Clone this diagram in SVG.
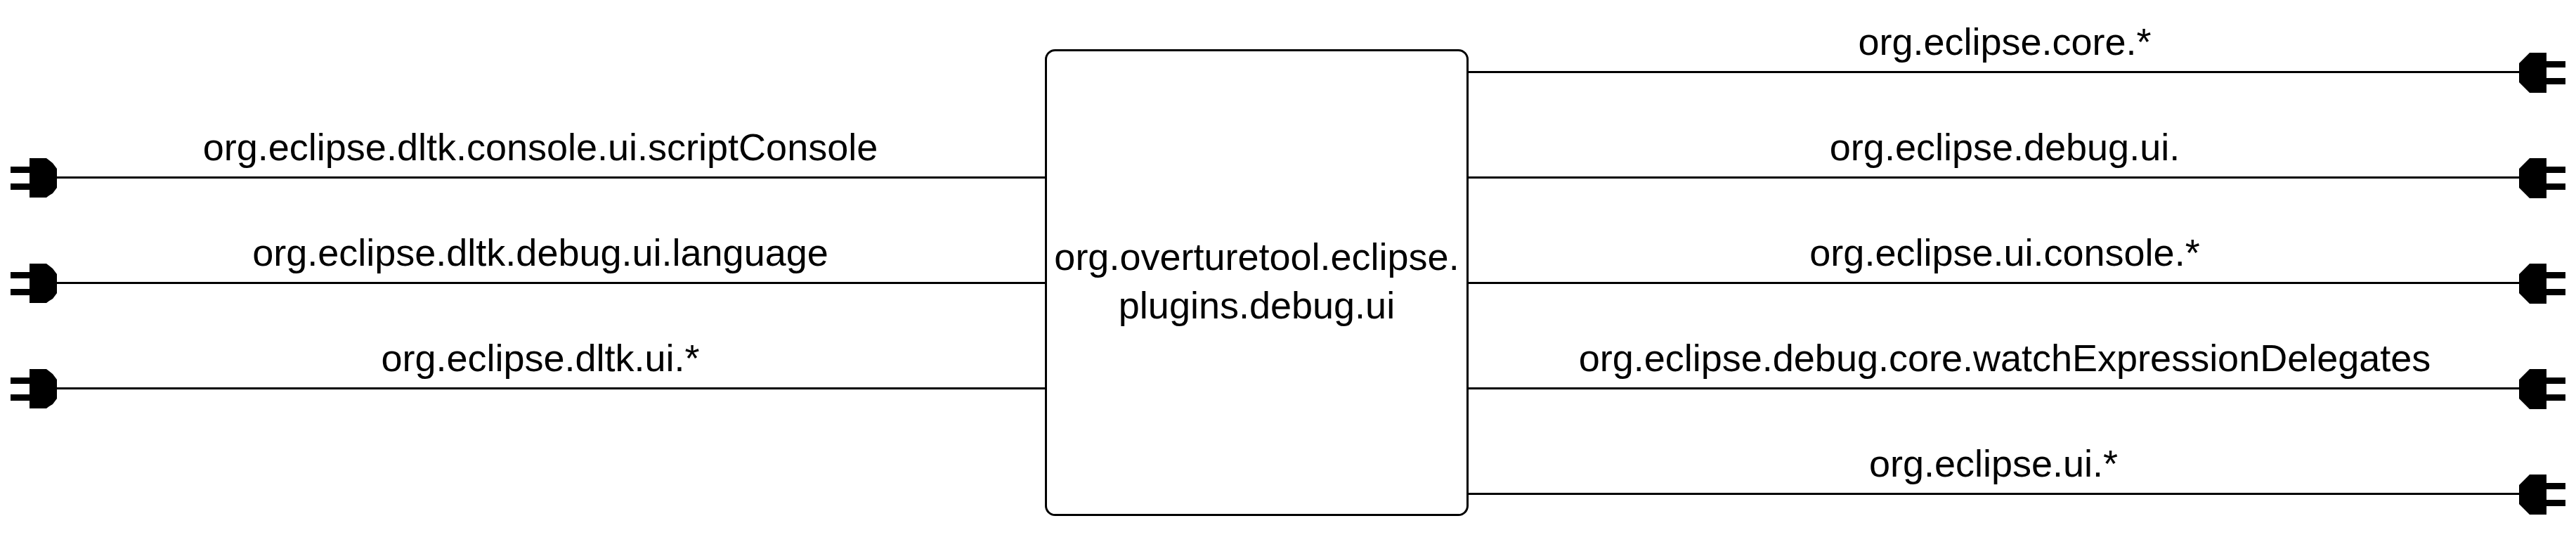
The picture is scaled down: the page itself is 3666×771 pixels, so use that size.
<svg xmlns="http://www.w3.org/2000/svg" width="3666" height="771" viewBox="0 0 3666 771">
<style>
text{font-family:"Liberation Sans",Arial,sans-serif;font-size:54px;fill:#000;text-anchor:middle}
.c{stroke:#000;stroke-width:3;fill:none}
.p{fill:#000;stroke:none}
</style>
<defs>
<path id="pl" d="M15 -15H42V-27H66L70 -24L75 -20L78 -16L81 -12V15L78 19L75 23L70 26L66 29H42V18H15V9H42V-6H15Z"/>
<path id="pr" d="M0 -12L15 -27H39V-15H66V-6H39V9H66V18H39V30H15L0 15Z"/>
</defs>
<rect width="3666" height="771" fill="#fff"/>
<g id="connectors">
<path class="c" d="M81 252.500H1489M81 402.500H1489M81 552.500H1489"/>
<path class="c" d="M2088 102.500H3585M2088 252.500H3585M2088 402.500H3585M2088 552.500H3585M2088 702.500H3585"/>
</g>
<g id="node-main">
<rect x="1488.500" y="71.500" width="600" height="661" rx="13" fill="#fff" stroke="#000" stroke-width="3"/>
<text x="1788.500" y="384">org.overturetool.eclipse.</text>
<text x="1788.500" y="453">plugins.debug.ui</text>
</g>
<g id="plug-l1"><use class="p" href="#pl" y="252"/><text x="769" y="228">org.eclipse.dltk.console.ui.scriptConsole</text></g>
<g id="plug-l2"><use class="p" href="#pl" y="402"/><text x="769" y="378">org.eclipse.dltk.debug.ui.language</text></g>
<g id="plug-l3"><use class="p" href="#pl" y="552"/><text x="769" y="528">org.eclipse.dltk.ui.*</text></g>
<g id="plug-r1"><use class="p" href="#pr" x="3585" y="102"/><text x="2853" y="78">org.eclipse.core.*</text></g>
<g id="plug-r2"><use class="p" href="#pr" x="3585" y="252"/><text x="2853" y="228">org.eclipse.debug.ui.</text></g>
<g id="plug-r3"><use class="p" href="#pr" x="3585" y="402"/><text x="2853" y="378">org.eclipse.ui.console.*</text></g>
<g id="plug-r4"><use class="p" href="#pr" x="3585" y="552"/><text x="2853" y="528">org.eclipse.debug.core.watchExpressionDelegates</text></g>
<g id="plug-r5"><use class="p" href="#pr" x="3585" y="702"/><text x="2837" y="678">org.eclipse.ui.*</text></g>
</svg>
